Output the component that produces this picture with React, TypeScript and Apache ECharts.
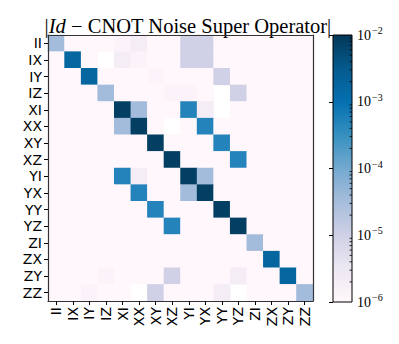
import React, { useEffect, useRef } from "react";
import * as echarts from "echarts";

const labels = ["II", "IX", "IY", "IZ", "XI", "XX", "XY", "XZ", "YI", "YX", "YY", "YZ", "ZI", "ZX", "ZY", "ZZ"];

// |Id - CNOT noise super operator| magnitudes, rows top→bottom, columns left→right (0 = blank cell)
const b = 5e-7;
const matrix: number[][] = [
  [3.3e-5, b, b, b, 1.3e-6, 2e-6, b, b, 1e-5, 1e-5, b, b, b, b, b, b],
  [b, 1.7e-3, b, 0, 2e-6, 1.3e-6, b, b, 1e-5, 1e-5, b, b, b, b, b, b],
  [b, b, 1.7e-3, b, b, b, 1.2e-6, b, b, b, 1e-5, b, b, b, b, b],
  [b, b, b, 3.3e-5, b, b, b, 1.3e-6, 1.3e-6, b, 0, 1e-5, b, b, b, b],
  [b, b, b, b, 8e-3, 3.3e-5, b, b, 5e-4, 2e-6, 0, b, b, b, b, b],
  [b, b, b, b, 3.3e-5, 8e-3, b, 0, b, 5e-4, b, b, b, b, b, b],
  [b, b, b, b, b, b, 8e-3, b, b, b, 5e-4, b, b, b, b, b],
  [b, b, b, b, b, b, b, 8e-3, b, b, b, 5e-4, b, b, b, b],
  [b, b, b, b, 5e-4, 2e-6, b, b, 8e-3, 3.3e-5, b, b, b, b, b, b],
  [b, b, b, b, b, 5e-4, b, b, 3.3e-5, 8e-3, b, b, b, b, b, b],
  [b, b, b, b, b, b, 5e-4, b, b, b, 8e-3, b, b, b, b, b],
  [b, b, b, b, b, b, b, 5e-4, b, b, b, 8e-3, b, b, b, b],
  [b, b, b, b, b, b, b, b, b, b, b, b, 3.3e-5, b, b, b],
  [b, b, b, b, b, b, b, b, b, b, b, b, b, 1.7e-3, b, b],
  [b, b, b, 1.3e-6, b, b, b, 1e-5, b, b, b, 2e-6, b, b, 1.7e-3, b],
  [b, b, 1.3e-6, b, b, 0, 1e-5, b, b, b, 2e-6, 0, b, b, b, 3.3e-5],
];

const colorbarExponents = [-6, -5, -4, -3, -2];

const PUBU = ["#fff7fb", "#ece7f2", "#d0d1e6", "#a6bddb", "#74a9cf", "#3690c0", "#0570b0", "#045a8d", "#023858"];

export default function App() {
  const ref = useRef<HTMLDivElement>(null);
  useEffect(() => {
    if (!ref.current) return;
    const chart = echarts.init(ref.current, null, { renderer: "svg" });

    const data: any[] = [];
    matrix.forEach((row, i) =>
      row.forEach((v, j) => {
        const lv = v === 0 ? "-" : Math.max(-6, Math.min(-2, Math.log10(v)));
        data.push([j, i, lv]);
      })
    );

    const minorTicks: number[] = [];
    for (let d = -6; d < -2; d++) for (let k = 2; k <= 9; k++) minorTicks.push(d + Math.log10(k));

    const labelFont = { fontFamily: "DejaVu Sans", fontSize: 14, color: "#000" };

    chart.setOption({
      animation: false,
      backgroundColor: "#fff",
      title: {
        text: "{n||}{i|Id}{n| − CNOT Noise Super Operator|}",
        left: 183,
        top: 10,
        textAlign: "center",
        textStyle: {
          fontWeight: "normal",
          rich: {
            n: { fontFamily: "Liberation Serif", fontSize: 20.5, fontWeight: "normal", color: "#000" },
            i: { fontFamily: "Liberation Serif", fontSize: 20.5, fontWeight: "normal", fontStyle: "italic", color: "#000" },
          },
        },
      },
      grid: [
        { left: 48, top: 35, width: 265, height: 266, show: false },
        { left: 333, top: 35, width: 19, height: 267, show: false },
      ],
      xAxis: [
        {
          type: "category",
          data: labels,
          gridIndex: 0,
          position: "bottom",
          z: 10,
          axisLine: { show: true, lineStyle: { color: "#333", width: 1.2 } },
          axisTick: { show: true, alignWithLabel: true, length: 4, lineStyle: { color: "#000", width: 1 } },
          axisLabel: { ...labelFont, rotate: 90, margin: 6, interval: 0 },
          splitLine: { show: false },
        },
        {
          type: "category",
          data: labels,
          gridIndex: 0,
          position: "top",
          z: 10,
          axisLine: { show: true, lineStyle: { color: "#333", width: 1.2 } },
          axisTick: { show: false },
          axisLabel: { show: false },
        },
        { type: "value", gridIndex: 1, min: 0, max: 1, show: false },
      ],
      yAxis: [
        {
          type: "category",
          data: labels,
          gridIndex: 0,
          inverse: true,
          position: "left",
          z: 10,
          axisLine: { show: true, lineStyle: { color: "#333", width: 1.2 } },
          axisTick: { show: true, alignWithLabel: true, length: 4, lineStyle: { color: "#000", width: 1 } },
          axisLabel: { ...labelFont, margin: 6, interval: 0 },
          splitLine: { show: false },
        },
        {
          type: "category",
          data: labels,
          gridIndex: 0,
          inverse: true,
          position: "right",
          z: 10,
          axisLine: { show: true, lineStyle: { color: "#333", width: 1.2 } },
          axisTick: { show: false },
          axisLabel: { show: false },
        },
        {
          type: "value",
          gridIndex: 1,
          min: -6,
          max: -2,
          interval: 1,
          position: "right",
          z: 10,
          axisLine: { show: false },
          splitLine: { show: false },
          axisTick: { show: true, inside: true, length: 4, lineStyle: { color: "#000", width: 1 } },
          axisLabel: {
            margin: 5,
            formatter: (v: number) => (colorbarExponents.includes(v) ? `{b|10}{s|−${Math.abs(v)}}` : ""),
            rich: {
              b: { fontFamily: "Liberation Serif", fontSize: 14, color: "#000" },
              s: { fontFamily: "Liberation Serif", fontSize: 10, color: "#000", padding: [0, 0, 9, 1] },
            },
          },
        },
      ],
      visualMap: {
        type: "continuous",
        show: false,
        min: -6,
        max: -2,
        dimension: 2,
        seriesIndex: 0,
        inRange: { color: PUBU },
      },
      series: [
        {
          type: "heatmap",
          xAxisIndex: 0,
          yAxisIndex: 0,
          data,
          silent: true,
          emphasis: { disabled: true },
          itemStyle: { borderWidth: 0 },
        },
        {
          type: "custom",
          xAxisIndex: 2,
          yAxisIndex: 2,
          silent: true,
          data: [[0, -6]],
          renderItem: (params: any, api: any) => {
            const tl = api.coord([0, -2]);
            const br = api.coord([1, -6]);
            const stops = PUBU.map((c, i) => ({ offset: 1 - i / (PUBU.length - 1), color: c }));
            const children: any[] = [
              {
                type: "rect",
                shape: { x: tl[0], y: tl[1], width: br[0] - tl[0], height: br[1] - tl[1] },
                style: { fill: new echarts.graphic.LinearGradient(0, 0, 0, 1, stops.reverse()) },
              },
            ];
            minorTicks.forEach((t) => {
              const y = api.coord([1, t])[1];
              children.push({
                type: "line",
                shape: { x1: br[0] - 2.5, y1: y, x2: br[0], y2: y },
                style: { stroke: "#000", lineWidth: 0.8 },
              });
            });
            children.push({
              type: "rect",
              shape: { x: tl[0], y: tl[1], width: br[0] - tl[0], height: br[1] - tl[1] },
              style: { fill: "none", stroke: "#000", lineWidth: 1 },
            });
            return { type: "group", children };
          },
        },
      ],
    });
    return () => chart.dispose();
  }, []);
  return <div ref={ref} style={{ position: "fixed", left: 0, top: 0, width: 399, height: 344 }} />;
}
